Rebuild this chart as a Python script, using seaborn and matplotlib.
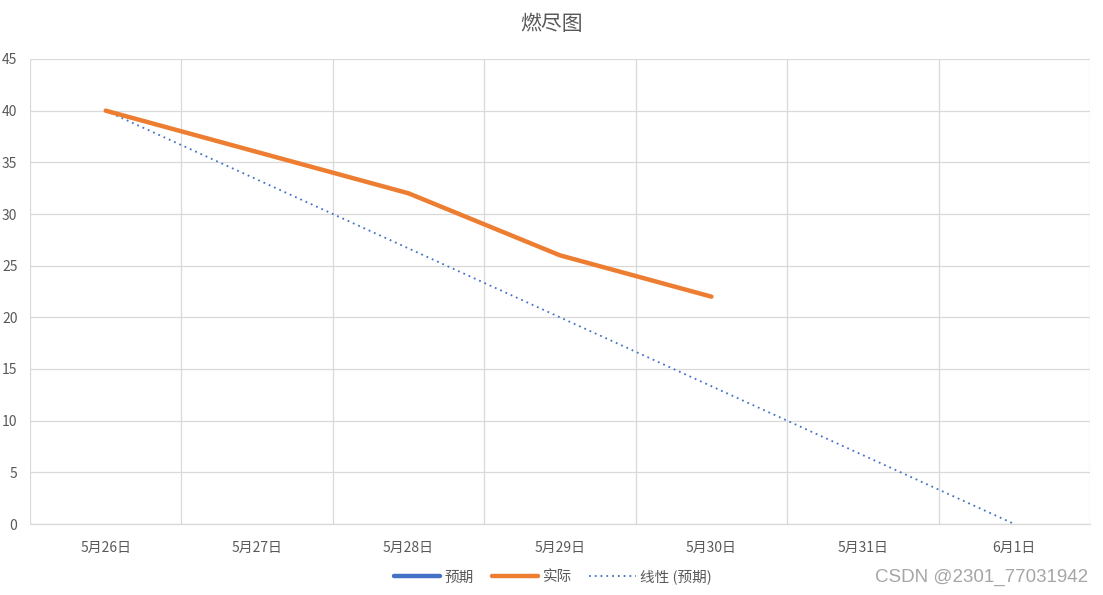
import numpy as np
import pandas as pd
import matplotlib
matplotlib.use("Agg")
import matplotlib.pyplot as plt
import seaborn as sns
from matplotlib.lines import Line2D

# ===============================
# data
# ===============================
dates = ["5月26日", "5月27日", "5月28日", "5月29日", "5月30日", "5月31日", "6月1日"]
expected = [40, 33.33, 26.67, 20, 13.33, 6.67, 0]
actual = [40, 36, 32, 26, 22]
y_ticks = [0, 5, 10, 15, 20, 25, 30, 35, 40, 45]

sns.set_theme(style="white")
plt.rcParams["font.family"] = ["Noto Sans CJK SC", "DejaVu Sans"]

BLUE = "#4472C4"
ORANGE = "#ED7D31"
GRAY_TXT = "#595959"
GRID = "#D9D9D9"

pos = np.arange(len(dates))
df_act = pd.DataFrame({"x": pos[:len(actual)], "y": actual})

# linear trendline of the expected series
k, b = np.polyfit(pos, expected, 1)
df_trend = pd.DataFrame({"x": pos, "y": k * pos + b})

fig = plt.figure(figsize=(11.03, 5.95), dpi=100)
ax = fig.add_axes([30 / 1103, 71 / 595, 1060 / 1103, 465 / 595])

sns.lineplot(data=df_trend, x="x", y="y", ax=ax, color=BLUE, linewidth=1.3,
             linestyle=(0, (1, 2.2)), zorder=3)
sns.lineplot(data=df_act, x="x", y="y", ax=ax, color=ORANGE, linewidth=3.2,
             zorder=4)

ax.set_xlim(-0.5, len(dates) - 0.5)
ax.set_ylim(0, 45)
ax.set_yticks(y_ticks)
ax.set_yticklabels([str(t) for t in y_ticks])
ax.set_xticks(pos)
ax.set_xticklabels(dates)
ax.set_xticks(np.arange(-0.5, len(dates), 1), minor=True)
ax.set_xlabel("")
ax.set_ylabel("")

ax.grid(True, which="major", axis="y", color=GRID, linewidth=0.9)
ax.grid(True, which="minor", axis="x", color=GRID, linewidth=0.9)
ax.grid(False, which="major", axis="x")
ax.tick_params(axis="both", which="major", length=0, labelsize=10, colors=GRAY_TXT)
ax.tick_params(axis="y", pad=9)
ax.tick_params(axis="x", pad=12)
ax.tick_params(axis="x", which="minor", length=5, color=GRID, width=0.9)
for s in ["top", "right", "left"]:
    ax.spines[s].set_visible(False)
ax.spines["bottom"].set_color(GRID)
ax.spines["bottom"].set_linewidth(0.9)

fig.text(0.5, 0.96, "燃尽图", ha="center", va="center", fontsize=15, color=GRAY_TXT)

handles = [
    Line2D([], [], color=BLUE, linewidth=3.2),
    Line2D([], [], color=ORANGE, linewidth=3.2),
    Line2D([], [], color=BLUE, linewidth=1.3, linestyle=(0, (1, 2.2))),
]
fig.legend(handles, ["预期", "实际", "线性 (预期)"], loc="center",
           bbox_to_anchor=(553 / 1103, 1 - 577 / 595), ncol=3, frameon=False,
           fontsize=10.5, labelcolor=GRAY_TXT, handlelength=3.2,
           handletextpad=0.3, columnspacing=1.2)

fig.text(1088 / 1103, 1 - 577 / 595, "CSDN @2301_77031942", ha="right", va="center",
         fontsize=13.5, color="#A6A6A6", family=["Liberation Sans", "DejaVu Sans"])

fig.savefig("out.png", dpi=100)
